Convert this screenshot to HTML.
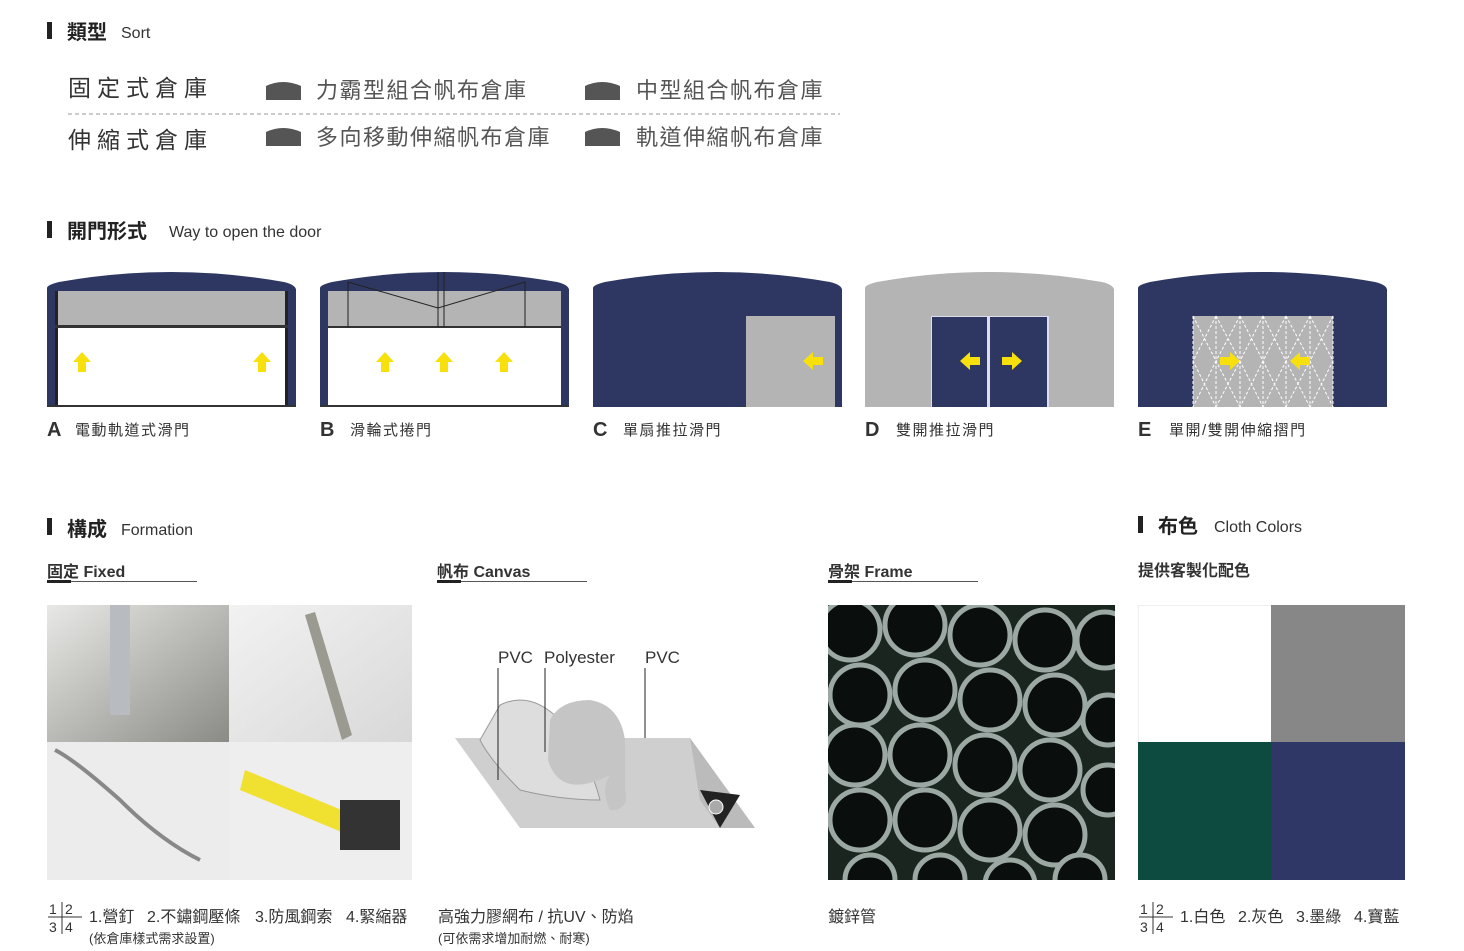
<!DOCTYPE html>
<html><head><meta charset="utf-8"><style>
body{margin:0;width:1464px;height:946px;background:#fff;overflow:hidden;font-family:"Liberation Sans","Noto Sans CJK TC",sans-serif;}
svg text{font-family:"Liberation Sans","Noto Sans CJK TC",sans-serif;white-space:pre;}
</style></head><body>
<svg width="1464" height="946" viewBox="0 0 1464 946" xmlns="http://www.w3.org/2000/svg" xml:space="preserve">
<defs>
<g id="up"><path d="M0,-10 L9,0 L4,0 L4,10 L-4,10 L-4,0 L-9,0Z" fill="#f7e00c"/></g>
<g id="lt"><path d="M-10,0 L0,-9 L0,-4 L10,-4 L10,4 L0,4 L0,9Z" fill="#f7e00c"/></g>
<g id="rt"><path d="M10,0 L0,-9 L0,-4 L-10,-4 L-10,4 L0,4 L0,9Z" fill="#f7e00c"/></g>
<path id="roof" d="M0,18 Q0,15 12,12 Q124,-8 237,12 Q249,15 249,20 L249,137 L0,137Z"/>
<linearGradient id="pg1" x1="0" y1="0" x2="1" y2="1"><stop offset="0" stop-color="#e8e8e6"/><stop offset="1" stop-color="#8b8b86"/></linearGradient>
<linearGradient id="pg2" x1="0" y1="0" x2="1" y2="1"><stop offset="0" stop-color="#f2f2f2"/><stop offset="1" stop-color="#d8d8d8"/></linearGradient>
<clipPath id="fc"><rect x="828" y="605" width="287" height="275"/></clipPath>
</defs>
<!-- Sort -->
<rect x="47" y="22" width="5" height="17" fill="#222"/>
<text x="67" y="39" font-size="20" font-weight="bold" fill="#222">類型</text>
<text x="121" y="38" font-size="16" fill="#333">Sort</text>
<g font-size="23" fill="#333" letter-spacing="6">
<text x="68" y="96">固定式倉庫</text>
<text x="68" y="148">伸縮式倉庫</text>
</g>
<g fill="#555">
<path d="M266,100 L266,86 Q283,78 301,86 L301,100Z"/>
<path d="M585,100 L585,86 Q602,78 620,86 L620,100Z"/>
<path d="M266,146 L266,132 Q283,124 301,132 L301,146Z"/>
<path d="M585,146 L585,132 Q602,124 620,132 L620,146Z"/>
</g>
<g font-size="22" fill="#555" letter-spacing="1.5">
<text x="316" y="98">力霸型組合帆布倉庫</text>
<text x="636" y="98">中型組合帆布倉庫</text>
<text x="316" y="145">多向移動伸縮帆布倉庫</text>
<text x="636" y="145">軌道伸縮帆布倉庫</text>
</g>
<line x1="68" y1="114" x2="840" y2="114" stroke="#999" stroke-dasharray="4,3"/>
<!-- doors -->
<rect x="47" y="221" width="5" height="17" fill="#222"/>
<text x="67" y="238" font-size="20" font-weight="bold" fill="#222">開門形式</text>
<text x="169" y="237" font-size="16" fill="#333">Way to open the door</text>
<g transform="translate(47,270)">
<use href="#roof" fill="#2e3762"/>
<rect x="8" y="21" width="233" height="114" fill="#fff"/>
<rect x="8" y="21" width="233" height="35" fill="#b4b4b4"/>
<rect x="8" y="21" width="3" height="114" fill="#222"/><rect x="238" y="21" width="3" height="114" fill="#222"/>
<rect x="8" y="55" width="233" height="3" fill="#333"/>
<rect x="0" y="135" width="249" height="2" fill="#333"/>
<use href="#up" x="35" y="92"/><use href="#up" x="215" y="92"/>
</g>
<g transform="translate(320,270)">
<use href="#roof" fill="#2e3762"/>
<rect x="8" y="21" width="233" height="114" fill="#fff"/>
<rect x="8" y="21" width="233" height="36" fill="#b4b4b4"/>
<rect x="8" y="56" width="233" height="2" fill="#333"/>
<g stroke="#222" stroke-width="1" fill="none"><path d="M28,57 V12 L118,38 L205,12 V57 M118,2 V57 M124,2 V57"/></g>
<rect x="0" y="135" width="249" height="2" fill="#333"/>
<use href="#up" x="65" y="92"/><use href="#up" x="124" y="92"/><use href="#up" x="184" y="92"/>
</g>
<g transform="translate(593,270)">
<use href="#roof" fill="#2e3762"/>
<rect x="153" y="46" width="89" height="91" fill="#b4b4b4"/>
<use href="#lt" x="220" y="91"/>
</g>
<g transform="translate(865,270)">
<use href="#roof" fill="#b4b4b4"/>
<rect x="66" y="46" width="118" height="91" fill="#dde"/>
<rect x="67" y="47" width="55" height="90" fill="#2e3762"/><rect x="125" y="47" width="57" height="90" fill="#2e3762"/>
<use href="#lt" x="105" y="91"/><use href="#rt" x="147" y="91"/>
</g>
<g transform="translate(1138,270)">
<use href="#roof" fill="#2e3762"/>
<rect x="55" y="46" width="140" height="91" fill="#b4b4b4"/>
<g stroke="#fff" stroke-width="1" stroke-dasharray="3,2" fill="none">
<path d="M55,46 V137 M78,46 V137 M102,46 V137 M125,46 V137 M148,46 V137 M172,46 V137 M195,46 V137"/>
<path d="M55,46 L78,91 L55,137 M78,46 L55,91 L78,137 M78,46 L102,91 L78,137 M102,46 L78,91 L102,137 M102,46 L125,91 L102,137 M125,46 L102,91 L125,137 M125,46 L148,91 L125,137 M148,46 L125,91 L148,137 M148,46 L172,91 L148,137 M172,46 L148,91 L172,137 M172,46 L195,91 L172,137 M195,46 L172,91 L195,137"/>
</g>
<use href="#rt" x="92" y="91"/><use href="#lt" x="162" y="91"/>
</g>
<g font-size="15" fill="#333" letter-spacing="1.5">
<text x="47" y="436" font-size="20" font-weight="bold">A</text><text x="75" y="435">電動軌道式滑門</text>
<text x="320" y="436" font-size="20" font-weight="bold">B</text><text x="350" y="435">滑輪式捲門</text>
<text x="593" y="436" font-size="20" font-weight="bold">C</text><text x="623" y="435">單扇推拉滑門</text>
<text x="865" y="436" font-size="20" font-weight="bold">D</text><text x="896" y="435">雙開推拉滑門</text>
<text x="1138" y="436" font-size="20" font-weight="bold">E</text><text x="1169" y="435">單開/雙開伸縮摺門</text>
</g>
<!-- Formation -->
<rect x="47" y="518" width="5" height="17" fill="#222"/>
<text x="67" y="536" font-size="20" font-weight="bold" fill="#222">構成</text>
<text x="121" y="535" font-size="16" fill="#333">Formation</text>
<rect x="1138" y="516" width="5" height="17" fill="#222"/>
<text x="1158" y="533" font-size="20" font-weight="bold" fill="#222">布色</text>
<text x="1214" y="532" font-size="16" fill="#333">Cloth Colors</text>
<g font-size="16" font-weight="bold" fill="#333">
<text x="47" y="577">固定 Fixed</text><text x="437" y="577">帆布 Canvas</text><text x="828" y="577">骨架 Frame</text><text x="1138" y="576">提供客製化配色</text>
</g>
<g stroke="#555" stroke-width="1"><line x1="47" y1="581.5" x2="197" y2="581.5"/><line x1="437" y1="581.5" x2="587" y2="581.5"/><line x1="828" y1="581.5" x2="978" y2="581.5"/></g>
<g fill="#222"><rect x="47" y="580" width="24" height="3"/><rect x="437" y="580" width="24" height="3"/><rect x="828" y="580" width="24" height="3"/></g>
<!-- fixed photos -->
<rect x="47" y="605" width="182" height="137" fill="url(#pg1)"/>
<rect x="110" y="605" width="20" height="110" fill="#b8bcc0"/>
<rect x="229" y="605" width="183" height="137" fill="url(#pg2)"/>
<path d="M305,615 L315,612 L352,735 L342,740Z" fill="#9a9a90"/>
<rect x="47" y="742" width="182" height="138" fill="#ececec"/>
<path d="M55,750 Q75,760 120,800 Q160,840 200,860" stroke="#888" stroke-width="4" fill="none"/>
<rect x="229" y="742" width="183" height="138" fill="#eeeeee"/>
<path d="M245,770 L390,830 L385,850 L240,790Z" fill="#f0e030"/>
<rect x="340" y="800" width="60" height="50" fill="#333"/>
<!-- canvas -->
<g font-size="17" fill="#333"><text x="498" y="663">PVC</text><text x="544" y="663">Polyester</text><text x="645" y="663">PVC</text></g>
<path d="M455,738 L690,738 L755,828 L520,828Z" fill="#cfcfcf"/>
<path d="M690,738 L755,828 L720,828 L700,800Z" fill="#bbb"/>
<path d="M700,790 L740,795 L720,828Z" fill="#222"/><circle cx="716" cy="807" r="7" fill="#aaa" stroke="#fff"/>
<path d="M500,705 Q530,690 560,720 Q590,760 600,800 Q560,800 520,790 Q490,760 480,740Z" fill="#ddd" stroke="#999"/>
<path d="M550,720 Q560,700 590,700 Q620,705 625,740 L625,790 Q630,810 610,810 Q600,790 610,775 Q560,800 548,760Z" fill="#c5c5c5"/>
<g stroke="#222" stroke-width="1"><line x1="498" y1="668" x2="498" y2="780"/><line x1="545" y1="668" x2="545" y2="752"/><line x1="645" y1="668" x2="645" y2="738"/></g>
<!-- frame -->
<g clip-path="url(#fc)">
<rect x="828" y="605" width="287" height="275" fill="#1b2520"/>
<g fill="#0a0e0c" stroke="#9ba8a3" stroke-width="5">
<circle cx="850" cy="630" r="30"/><circle cx="915" cy="625" r="30"/><circle cx="980" cy="635" r="30"/><circle cx="1045" cy="640" r="30"/><circle cx="1105" cy="640" r="28"/>
<circle cx="860" cy="695" r="30"/><circle cx="925" cy="690" r="30"/><circle cx="990" cy="700" r="30"/><circle cx="1055" cy="705" r="30"/>
<circle cx="855" cy="755" r="30"/><circle cx="920" cy="755" r="30"/><circle cx="985" cy="765" r="30"/><circle cx="1050" cy="770" r="30"/><circle cx="1108" cy="720" r="25"/>
<circle cx="860" cy="820" r="30"/><circle cx="925" cy="820" r="30"/><circle cx="990" cy="830" r="30"/><circle cx="1055" cy="835" r="30"/><circle cx="1108" cy="790" r="25"/>
<circle cx="870" cy="880" r="25"/><circle cx="940" cy="880" r="25"/><circle cx="1010" cy="885" r="25"/><circle cx="1080" cy="880" r="25"/>
</g>
</g>
<!-- colors -->
<rect x="1138.5" y="605.5" width="133" height="137" fill="#fff" stroke="#eee"/>
<rect x="1271" y="605" width="134" height="137" fill="#878787"/>
<rect x="1138" y="742" width="133" height="138" fill="#0d4a40"/>
<rect x="1271" y="742" width="134" height="138" fill="#2e3765"/>
<!-- captions -->
<g font-size="14" fill="#333"><text x="49" y="914">1</text><text x="65" y="914">2</text><text x="49" y="932">3</text><text x="65" y="932">4</text>
<text x="1140" y="914">1</text><text x="1156" y="914">2</text><text x="1140" y="932">3</text><text x="1156" y="932">4</text></g>
<g stroke="#333"><line x1="48" y1="917" x2="82" y2="917"/><line x1="62" y1="902" x2="62" y2="934"/><line x1="1139" y1="917" x2="1173" y2="917"/><line x1="1153" y1="902" x2="1153" y2="934"/></g>
<g font-size="16" fill="#333">
<text x="89" y="922">1.營釘</text><text x="147" y="922">2.不鏽鋼壓條</text><text x="255" y="922">3.防風鋼索</text><text x="346" y="922">4.緊縮器</text>
<text x="438" y="922">高強力膠網布 / 抗UV、防焰</text>
<text x="828" y="922">鍍鋅管</text>
<text x="1180" y="922">1.白色</text><text x="1238" y="922">2.灰色</text><text x="1296" y="922">3.墨綠</text><text x="1354" y="922">4.寶藍</text>
</g>
<g font-size="13" fill="#333"><text x="89" y="943">(依倉庫樣式需求設置)</text><text x="438" y="943">(可依需求增加耐燃、耐寒)</text></g>
</svg>
</body></html>
